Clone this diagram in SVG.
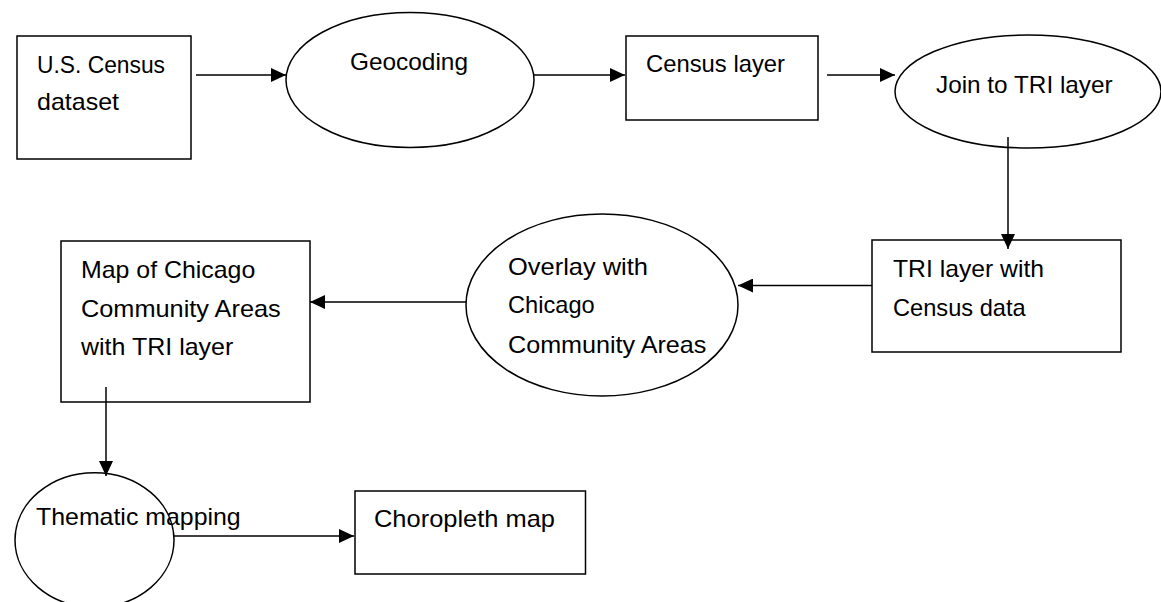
<svg xmlns="http://www.w3.org/2000/svg" width="1161" height="602" viewBox="0 0 1161 602">
<style>
.n{fill:#fff;stroke:#000;stroke-width:1.5}
.t{font-family:"Liberation Sans",Arial,sans-serif;font-size:24px;fill:#000}
.c{stroke:#000;stroke-width:1.5;fill:none;marker-end:url(#ah)}
</style>
<defs>
<marker id="ah" markerWidth="16" markerHeight="14" refX="15" refY="7" orient="auto" markerUnits="userSpaceOnUse">
<path d="M0,0 L15,7 L0,14 Z" fill="#000"/>
</marker>
</defs>
<rect width="1161" height="602" fill="#fff"/>
<g id="us-census">
<rect class="n" x="17" y="36" width="174" height="123"/>
<text class="t" x="37" y="73" textLength="128" lengthAdjust="spacingAndGlyphs">U.S. Census</text>
<text class="t" x="37" y="110" textLength="82" lengthAdjust="spacingAndGlyphs">dataset</text>
</g>
<g id="geocoding">
<ellipse class="n" cx="410" cy="80" rx="124" ry="67.5"/>
<text class="t" x="350" y="70" textLength="118" lengthAdjust="spacingAndGlyphs">Geocoding</text>
</g>
<g id="census-layer">
<rect class="n" x="626" y="36" width="192" height="84"/>
<text class="t" x="646" y="72" textLength="139" lengthAdjust="spacingAndGlyphs">Census layer</text>
</g>
<g id="join">
<ellipse class="n" cx="1028" cy="91.5" rx="133" ry="56.5"/>
<text class="t" x="936" y="93" textLength="176.6" lengthAdjust="spacingAndGlyphs">Join to TRI layer</text>
</g>
<g id="tri-census">
<rect class="n" x="872" y="240" width="249" height="112"/>
<text class="t" x="893" y="277" textLength="151" lengthAdjust="spacingAndGlyphs">TRI layer with</text>
<text class="t" x="893" y="316" textLength="132.6" lengthAdjust="spacingAndGlyphs">Census data</text>
</g>
<g id="overlay">
<ellipse class="n" cx="602" cy="305" rx="136" ry="91"/>
<text class="t" x="508" y="275" textLength="140" lengthAdjust="spacingAndGlyphs">Overlay with</text>
<text class="t" x="508" y="313" textLength="86.7" lengthAdjust="spacingAndGlyphs">Chicago</text>
<text class="t" x="508" y="353" textLength="198.4" lengthAdjust="spacingAndGlyphs">Community Areas</text>
</g>
<g id="map-chicago">
<rect class="n" x="61" y="241" width="249" height="161"/>
<text class="t" x="81" y="278" textLength="174.3" lengthAdjust="spacingAndGlyphs">Map of Chicago</text>
<text class="t" x="81" y="317" textLength="199.7" lengthAdjust="spacingAndGlyphs">Community Areas</text>
<text class="t" x="81" y="355" textLength="152.3" lengthAdjust="spacingAndGlyphs">with TRI layer</text>
</g>
<g id="thematic">
<ellipse class="n" cx="94.5" cy="540" rx="79.5" ry="67.3"/>
</g>
<g id="choropleth">
<rect class="n" x="355" y="491" width="230.5" height="83"/>
<text class="t" x="374" y="527" textLength="181" lengthAdjust="spacingAndGlyphs">Choropleth map</text>
</g>
<g id="connectors">
<line class="c" x1="196" y1="75" x2="286" y2="75"/>
<line class="c" x1="534" y1="75" x2="625" y2="75"/>
<line class="c" x1="827" y1="75" x2="895" y2="75"/>
<line class="c" x1="1008" y1="137" x2="1008" y2="249"/>
<line class="c" x1="872" y1="285.5" x2="738" y2="285.5"/>
<line class="c" x1="466" y1="302" x2="310" y2="302"/>
<line class="c" x1="106" y1="387" x2="106" y2="476"/>
<line class="c" x1="174" y1="536" x2="354" y2="536"/>
</g>
<g id="thematic-label">
<text class="t" x="36" y="525" textLength="204.7" lengthAdjust="spacingAndGlyphs">Thematic mapping</text>
</g>
</svg>
